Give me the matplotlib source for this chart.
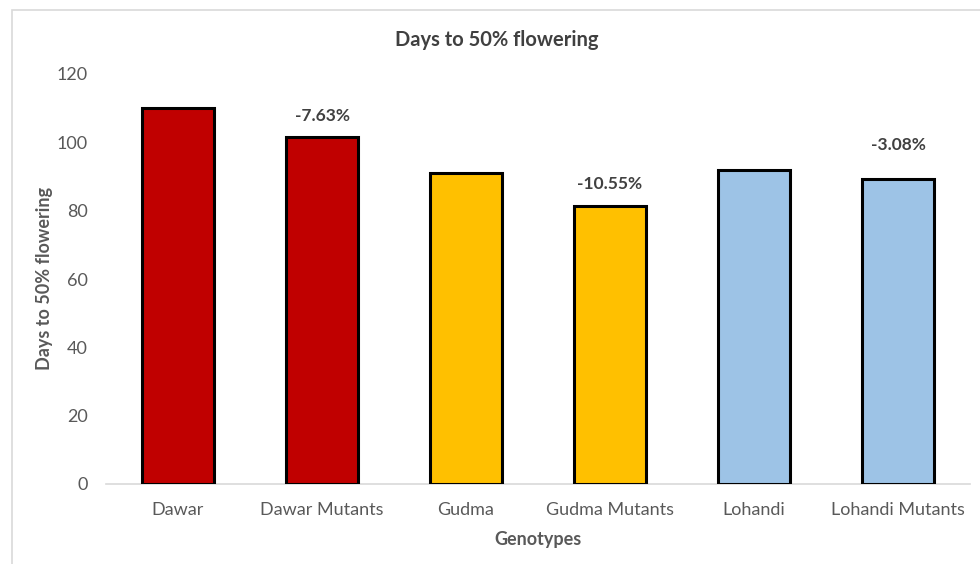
import numpy as np
import matplotlib.pyplot as plt
from matplotlib.patches import Rectangle

# data
genotypes = ['Dawar', 'Dawar Mutants', 'Gudma', 'Gudma Mutants', 'Lohandi', 'Lohandi Mutants']
days = [110, 101.6, 91, 81.4, 92, 89.2]
colors = ['#C00000', '#C00000', '#FFC000', '#FFC000', '#9DC3E6', '#9DC3E6']
change_labels = {1: '-7.63%', 3: '-10.55%', 5: '-3.08%'}
label_offset = {1: 9, 3: 10, 5: 19}   # points above bar top

plt.rcParams.update({'font.family': ['Lato', 'DejaVu Sans'], 'font.size': 13})
fig = plt.figure(figsize=(9.8, 5.64), dpi=100)
ax = fig.add_axes([106/980, 80/564, 864/980, 410/564])

x = np.arange(len(genotypes))
ax.bar(x, days, width=0.5, color=colors, edgecolor='black', linewidth=2.2, zorder=3)

for i, txt in change_labels.items():
    ax.annotate(txt, (x[i], days[i]), xytext=(0, label_offset[i]), textcoords='offset points',
                ha='center', va='bottom', fontsize=12.5, fontweight='bold', color='#404040')

# ejes
ax.set_xlim(-0.5, 5.5)
ax.set_ylim(0, 120)
ax.set_yticks(range(0, 121, 20))
ax.set_xticks(x)
ax.set_xticklabels(genotypes)
ax.tick_params(axis='both', length=0, colors='#595959', labelsize=13)
ax.tick_params(axis='y', pad=13)
ax.tick_params(axis='x', pad=13)
for s in ['top', 'right', 'left']:
    ax.spines[s].set_visible(False)
ax.spines['bottom'].set_color('#d9d9d9')
ax.spines['bottom'].set_linewidth(1.2)

ax.set_xlabel('Genotypes', fontsize=13, fontweight='bold', color='#595959', labelpad=9)
ax.set_ylabel('Days to 50% flowering', fontsize=13, fontweight='bold', color='#595959', labelpad=3)
fig.text(497/980, 1 - 40/564, 'Days to 50% flowering', ha='center', va='center',
         fontsize=14.5, fontweight='bold', color='#404040')

# chart area border
fig.patches.append(Rectangle((12/980, -0.05), 1.0, 1 - 10/564 + 0.05, transform=fig.transFigure,
                             facecolor='none', edgecolor='#d9d9d9', linewidth=1.2))

plt.savefig('out.png', dpi=100)
